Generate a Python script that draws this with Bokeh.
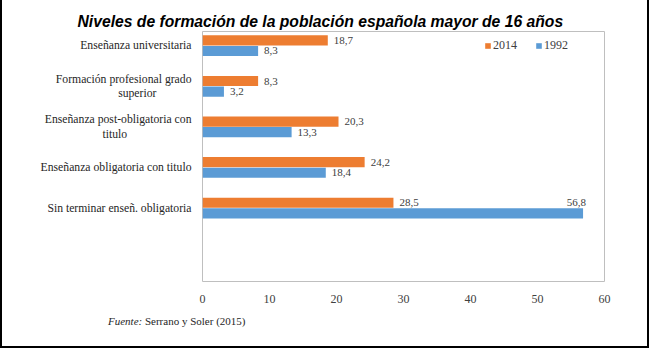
from bokeh.plotting import figure
from bokeh.layouts import column
from bokeh.models import (ColumnDataSource, Range1d, FixedTicker, Legend,
                          LegendItem, LabelSet, Title, Div)
from bokeh.core.properties import field
from bokeh.embed import file_html
from bokeh.resources import INLINE

NB = "\u00a0"
categories = ["Enseñanza universitaria",
              "Formación profesional grado\nsuperior" + NB * 12,
              "Enseñanza post-obligatoria con\ntitulo" + NB * 22,
              "Enseñanza obligatoria con titulo",
              "Sin terminar enseñ. obligatoria"]
v2014 = [18.7, 8.3, 20.3, 24.2, 28.5]
v1992 = [8.3, 3.2, 13.3, 18.4, 56.8]
x_ticks = [0, 10, 20, 30, 40, 50, 60]

ORANGE = "#ED7D31"
BLUE = "#5B9BD5"
SERIF = "'Times New Roman', 'Liberation Serif', serif"

idx = list(range(len(categories)))
off = 0.13
h = 0.25

def fmt(v):
    return ("%.1f" % v).replace(".", ",")

src14 = ColumnDataSource(dict(y=[i - off for i in idx], v=v2014,
                              lab=[fmt(v) for v in v2014]))
# data labels: outside end, except when the bar nearly fills the axis
ly, la, xo = [], [], []
for i, v in zip(idx, v1992):
    if v > 50:
        ly.append(i - off); la.append("right"); xo.append(3)
    else:
        ly.append(i + off); la.append("left"); xo.append(6)
src92 = ColumnDataSource(dict(y=[i + off for i in idx], v=v1992,
                              ly=ly, align=la, xo=xo,
                              lab=[fmt(v) for v in v1992]))

W = 649
p = figure(width=W, height=305, output_backend="svg", toolbar_location=None,
           x_range=Range1d(0, 60), y_range=Range1d(5.81, -0.35),
           min_border_left=200, min_border_right=47, min_border_top=31,
           min_border_bottom=23)
p.styles = {"border-left": "2px solid black", "border-right": "2px solid black"}
p.background_fill_color = "white"
p.border_fill_color = "white"
p.outline_line_color = "#BFBFBF"
p.outline_line_width = 1
p.grid.visible = False

# invisible spacer between the frame and the title
p.add_layout(Title(text=".", text_font_size="2px", standoff=6, text_alpha=0), "above")
p.add_layout(Title(text="Niveles de formación de la población española mayor de 16 años",
                   align="left", offset=-125, standoff=0, vertical_align="top",
                   text_font="'Liberation Sans', Arial, sans-serif",
                   text_font_style="bold italic", text_font_size="15.7px",
                   text_color="black"), "above")

r14 = p.hbar(y="y", right="v", left=0, height=h, source=src14,
             fill_color=ORANGE, line_color=None)
r92 = p.hbar(y="y", right="v", left=0, height=h, source=src92,
             fill_color=BLUE, line_color=None)

p.add_layout(LabelSet(x="v", y="y", text="lab", source=src14, x_offset=6,
                      text_baseline="middle", text_font=SERIF,
                      text_font_size="11px", text_color="#404040"))
p.add_layout(LabelSet(x="v", y="ly", text="lab", source=src92, x_offset=field("xo"),
                      text_align=field("align"), text_baseline="middle",
                      text_font=SERIF, text_font_size="11px",
                      text_color="#404040"))

# x axis
p.xaxis.ticker = FixedTicker(ticks=x_ticks)
p.xaxis.axis_line_color = None
p.xaxis.major_tick_line_color = None
p.xaxis.minor_tick_line_color = None
p.xaxis.major_label_text_font = SERIF
p.xaxis.major_label_text_font_size = "12px"
p.xaxis.major_label_text_color = "#404040"
p.xaxis.major_label_standoff = 7

# y axis
p.yaxis.ticker = FixedTicker(ticks=idx)
p.yaxis.major_label_overrides = {i: c for i, c in zip(idx, categories)}
p.yaxis.axis_line_color = None
p.yaxis.major_tick_line_color = None
p.yaxis.minor_tick_line_color = None
p.yaxis.major_label_text_font = SERIF
p.yaxis.major_label_text_font_size = "11.7px"
p.yaxis.major_label_text_line_height = 1.1
p.yaxis.major_label_text_color = "#262626"
p.yaxis.major_label_standoff = 5

legend = Legend(items=[LegendItem(label="2014", renderers=[r14]),
                       LegendItem(label="1992", renderers=[r92])],
                orientation="horizontal", location=(282, 228),
                border_line_color=None, background_fill_alpha=0,
                label_text_font=SERIF, label_text_font_size="12px",
                label_text_color="#404040", glyph_width=7, glyph_height=7,
                label_standoff=2, spacing=18, padding=0, margin=0)
p.add_layout(legend)

# footer (source note) below the chart
footer = Div(text=('<div style="padding:10px 0 0 106px; margin:0; '
                   "font-family:'Times New Roman','Liberation Serif',serif; "
                   'font-size:11px; line-height:13px; color:#262626; white-space:nowrap;">'
                   '<i>Fuente:</i> Serrano y Soler (2015)</div>'),
             width=W, height=43,
             styles={"border-left": "2px solid black", "border-right": "2px solid black",
                     "border-bottom": "2px solid black", "background": "white",
                     "margin": "0"})

layout = column(p, footer, spacing=0)
open("out.html", "w").write(file_html(layout, INLINE))
